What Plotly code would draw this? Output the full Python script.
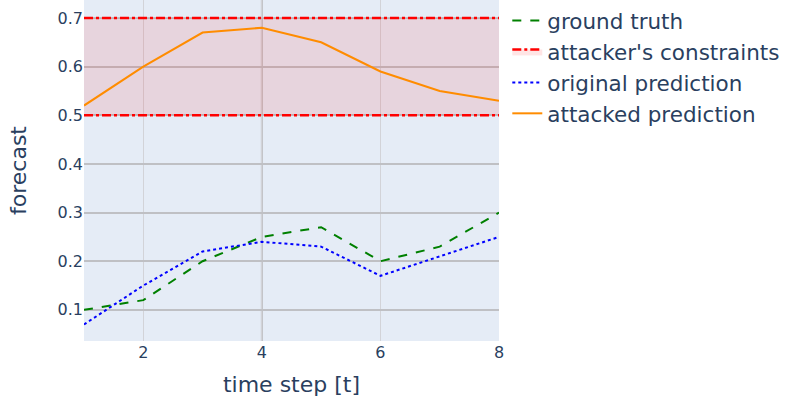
import plotly.graph_objects as go

t = [1, 2, 3, 4, 5, 6, 7, 8]
ground_truth = [0.10, 0.12, 0.20, 0.25, 0.27, 0.20, 0.23, 0.30]
original_pred = [0.07, 0.15, 0.22, 0.24, 0.23, 0.17, 0.21, 0.25]
attacked_pred = [0.52, 0.60, 0.67, 0.68, 0.65, 0.59, 0.55, 0.53]
lower_bound = [0.5] * 8
upper_bound = [0.7] * 8

FONT = "DejaVu Sans"

fig = go.Figure()
fig.add_trace(go.Scatter(x=t, y=ground_truth, mode="lines", name="ground truth",
                         line=dict(color="green", dash="dash", width=2)))
fig.add_trace(go.Scatter(x=t, y=lower_bound, mode="lines", showlegend=False,
                         line=dict(color="red", dash="dashdot", width=2.5)))
fig.add_trace(go.Scatter(x=t, y=upper_bound, mode="lines", name="attacker's constraints",
                         fill="tonexty", fillcolor="rgba(255,0,0,0.1)",
                         line=dict(color="red", dash="dashdot", width=2.5)))
fig.add_trace(go.Scatter(x=t, y=original_pred, mode="lines", name="original prediction",
                         line=dict(color="blue", dash="dot", width=2)))
fig.add_trace(go.Scatter(x=t, y=attacked_pred, mode="lines", name="attacked prediction",
                         line=dict(color="darkorange", width=2)))

fig.add_shape(type="line", xref="x", yref="paper", x0=4, x1=4, y0=0, y1=1,
              line=dict(color="#bdbdc1", width=2), layer="between")
fig.add_shape(type="line", xref="paper", yref="y", x0=0, x1=1, y0=0.2, y1=0.2,
              line=dict(color="white", width=1), layer="between")

fig.update_layout(
    width=793, height=402,
    template="plotly",
    font=dict(family=FONT, size=21, color="#2a3f5f"),
    margin=dict(l=84, r=294, t=0, b=61),
    legend=dict(font=dict(size=21.5), x=1.02, y=1, yanchor="top",
                traceorder="normal", tracegroupgap=0),
    xaxis=dict(title=dict(text="time step [t]", font=dict(size=22)), range=[1, 8],
               tickvals=[2, 4, 6, 8], tickfont=dict(size=16),
               gridcolor="#d2d3d8", gridwidth=1),
    yaxis=dict(title=dict(text="forecast", font=dict(size=22), standoff=24),
               range=[0.036, 0.737],
               tickvals=[0.1, 0.2, 0.3, 0.4, 0.5, 0.6, 0.7], tickfont=dict(size=16),
               gridcolor="#bfc0c4", gridwidth=2),
)

fig.write_html("out.html", config={"displayModeBar": False},
               post_script="document.body.style.margin='0';document.body.style.padding='0';")
